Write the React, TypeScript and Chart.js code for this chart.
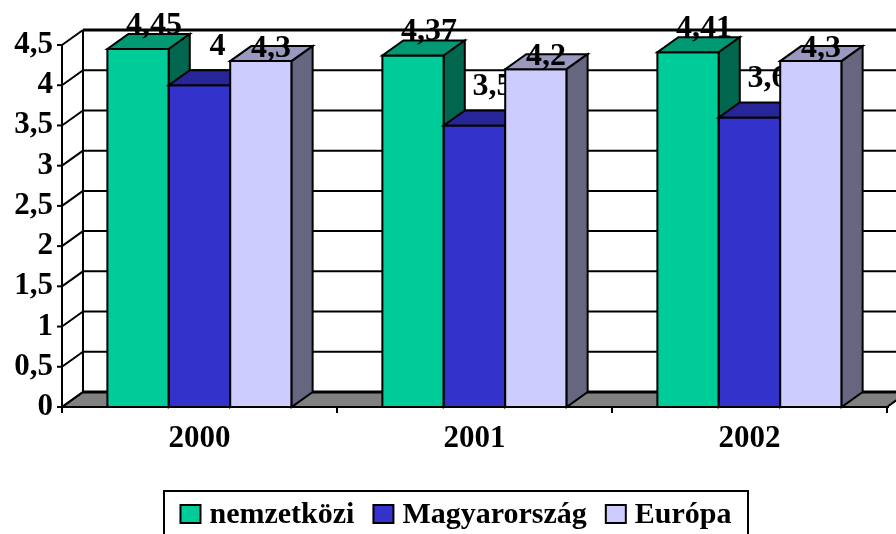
import React, { useEffect, useRef } from 'react';
import { Chart, registerables } from 'chart.js';

Chart.register(...registerables);

// ---- data ----
const categories = ['2000', '2001', '2002'];
const seriesNames = ['nemzetközi', 'Magyarország', 'Európa'];
const nemzetkozi = [4.45, 4.37, 4.41];
const magyarorszag = [4.0, 3.5, 3.6];
const europa = [4.3, 4.2, 4.3];
const yTicks = [0, 0.5, 1, 1.5, 2, 2.5, 3, 3.5, 4, 4.5];

// ---- styles ----
const FRONT = ['#00CC99', '#3333CC', '#CCCCFF'];
const TOP = ['#009973', '#262699', '#9999BF'];
const SIDE = ['#00664D', '#1A1A66', '#666680'];
const FLOOR = '#808080';
const DX = 21;
const DY = 15;
const FONT = '"Liberation Serif", "Times New Roman", serif';
// label offsets relative to bar front-top centre, per series
const LABEL_OFF = [
  { dx: 16, dy: -15 },
  { dx: 18, dy: -30 },
  { dx: 10, dy: -4 },
];

const fmt = (v: number) => String(v).replace('.', ',');

function poly(ctx: CanvasRenderingContext2D, pts: number[][], fill?: string) {
  ctx.beginPath();
  ctx.moveTo(pts[0][0], pts[0][1]);
  for (let i = 1; i < pts.length; i++) ctx.lineTo(pts[i][0], pts[i][1]);
  ctx.closePath();
  if (fill) {
    ctx.fillStyle = fill;
    ctx.fill();
  }
  ctx.stroke();
}

function line(ctx: CanvasRenderingContext2D, x1: number, y1: number, x2: number, y2: number) {
  ctx.beginPath();
  ctx.moveTo(x1, y1);
  ctx.lineTo(x2, y2);
  ctx.stroke();
}

const threeD = {
  id: 'threeD',
  beforeDatasetsDraw(chart: any) {
    const { ctx, chartArea: ca, scales } = chart;
    const y = scales.y;
    const x = scales.x;
    const L = ca.left;
    const R = ca.right;
    const B = y.getPixelForValue(yTicks[0]);
    const T = y.getPixelForValue(yTicks[yTicks.length - 1]);
    const W = chart.width;
    ctx.save();
    ctx.strokeStyle = '#000';
    ctx.lineWidth = 2;
    ctx.lineJoin = 'miter';

    // floor
    poly(ctx, [[L, B], [R, B], [R + DX, B - DY], [L + DX, B - DY]], FLOOR);

    // walls gridlines
    for (const v of yTicks) {
      const yy = y.getPixelForValue(v);
      line(ctx, L, yy, L + DX, yy - DY);
      line(ctx, L + DX, yy - DY, W + 5, yy - DY);
    }
    ctx.lineWidth = 3;
    line(ctx, L + DX, B - DY, W + 5, B - DY);
    line(ctx, L + DX, T - DY, W + 5, T - DY);
    ctx.lineWidth = 2;
    line(ctx, L + DX, T - DY, L + DX, B - DY);

    // front y axis + ticks
    line(ctx, L, T, L, B + 5);
    for (const v of yTicks) {
      const yy = y.getPixelForValue(v);
      line(ctx, L - 5, yy, L, yy);
    }
    // x axis line + category ticks
    line(ctx, L, B, R + 2, B);
    const n = categories.length;
    for (let i = 0; i <= n; i++) {
      const px = i < n ? x.getPixelForValue(i) - (x.getPixelForValue(1) - x.getPixelForValue(0)) / 2 : R;
      line(ctx, px, B, px, B + 6);
    }

    // bars, series by series
    const nd = chart.data.datasets.length;
    for (let d = 0; d < nd; d++) {
      const meta = chart.getDatasetMeta(d);
      meta.data.forEach((el: any) => {
        const l = el.x - el.width / 2;
        const r = el.x + el.width / 2;
        const t = el.y;
        const b = el.base;
        poly(ctx, [[l, b], [r, b], [r, t], [l, t]], FRONT[d]);
        poly(ctx, [[l, t], [r, t], [r + DX, t - DY], [l + DX, t - DY]], TOP[d]);
        poly(ctx, [[r, t], [r + DX, t - DY], [r + DX, b - DY], [r, b]], SIDE[d]);
      });
      // labels of this series
      ctx.fillStyle = '#000';
      ctx.font = `bold 32px ${FONT}`;
      ctx.textAlign = 'center';
      ctx.textBaseline = 'alphabetic';
      const vals = chart.data.datasets[d].data as number[];
      meta.data.forEach((el: any, j: number) => {
        ctx.fillText(fmt(vals[j]), el.x + LABEL_OFF[d].dx, el.y + LABEL_OFF[d].dy);
      });
    }
    ctx.restore();
    return false;
  },
  afterDraw(chart: any) {
    const { ctx } = chart;
    ctx.save();
    ctx.font = `bold 30px ${FONT}`;
    const sw = 20;
    const gapText = 9;
    const gapItem = 19;
    const widths = seriesNames.map((s) => ctx.measureText(s).width);
    const total = widths.reduce((a, w) => a + sw + gapText + w, 0) + gapItem * (seriesNames.length - 1);
    const boxL = 164;
    const boxR = 748;
    const boxT = 491;
    ctx.strokeStyle = '#000';
    ctx.lineWidth = 2;
    ctx.strokeRect(boxL, boxT, boxR - boxL, 80);
    let xx = (boxL + boxR) / 2 - total / 2;
    const base = 523;
    seriesNames.forEach((s, i) => {
      ctx.fillStyle = FRONT[i];
      ctx.fillRect(xx, base - 18, sw, 18);
      ctx.strokeRect(xx, base - 18, sw, 18);
      xx += sw + gapText;
      ctx.fillStyle = '#000';
      ctx.textAlign = 'left';
      ctx.textBaseline = 'alphabetic';
      ctx.fillText(s, xx, base);
      xx += widths[i] + gapItem;
    });
    ctx.restore();
  },
};

export default function App() {
  const ref = useRef<HTMLCanvasElement | null>(null);
  useEffect(() => {
    if (!ref.current) return;
    const chart = new Chart(ref.current, {
      type: 'bar',
      data: {
        labels: categories,
        datasets: [
          { label: seriesNames[0], data: nemzetkozi, backgroundColor: FRONT[0] },
          { label: seriesNames[1], data: magyarorszag, backgroundColor: FRONT[1] },
          { label: seriesNames[2], data: europa, backgroundColor: FRONT[2] },
        ],
      },
      options: {
        animation: false,
        responsive: true,
        maintainAspectRatio: false,
        layout: { padding: { top: 45, right: 9, left: 0, bottom: 0 } },
        datasets: { bar: { categoryPercentage: 0.67, barPercentage: 1.0 } },
        plugins: {
          legend: { display: false },
          tooltip: { enabled: false },
        },
        scales: {
          x: {
            grid: { display: false, drawTicks: false },
            border: { display: false },
            ticks: { color: '#000', font: { family: FONT, size: 31, weight: 'bold' }, padding: 13 },
            afterFit: (s: any) => {
              s.height = 127;
            },
          },
          y: {
            min: 0,
            max: 4.5,
            grid: { display: false, drawTicks: false },
            border: { display: false },
            ticks: {
              stepSize: 0.5,
              color: '#000',
              font: { family: FONT, size: 31, weight: 'bold' },
              padding: 9,
              callback: (v: any) => fmt(Number(v)),
            },
            afterFit: (s: any) => {
              s.width = 62;
            },
          },
        },
      },
      plugins: [threeD],
    } as any);
    return () => chart.destroy();
  }, []);
  return (
    <div style={{ position: 'absolute', left: 0, top: 0, width: 896, height: 534 }}>
      <canvas ref={ref} />
    </div>
  );
}
